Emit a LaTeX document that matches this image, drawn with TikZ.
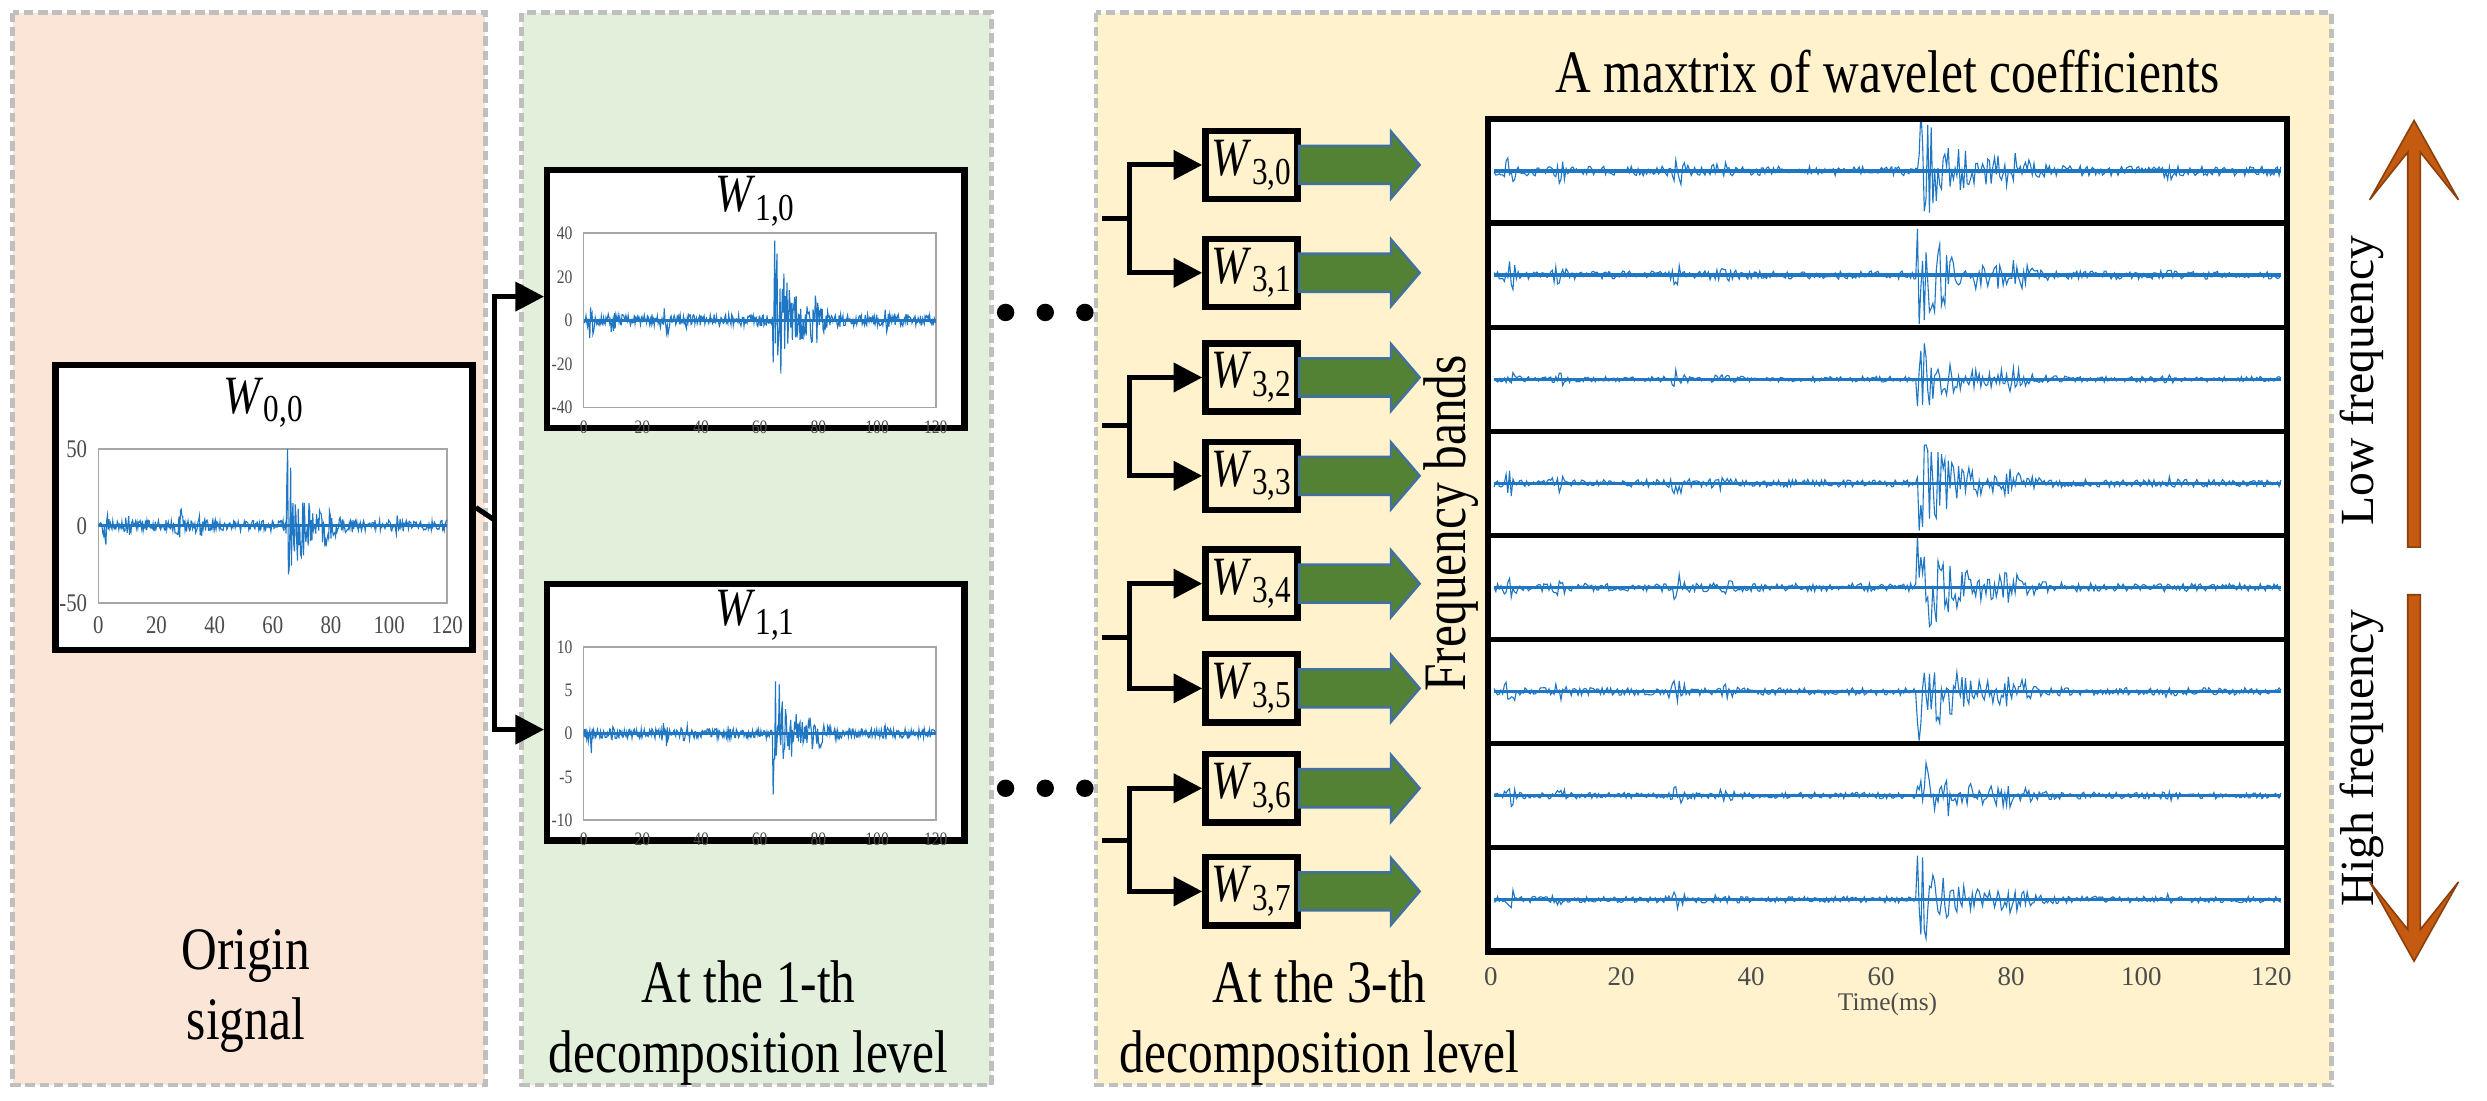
\documentclass[tikz,border=0pt]{standalone}
\usepackage{fontspec}
\setmainfont{Liberation Serif}
\newfontfamily\cond{Liberation Serif}[FakeStretch=0.82]
\usetikzlibrary{arrows.meta,calc}
\definecolor{peach}{HTML}{FBE5D6}
\definecolor{lgreen}{HTML}{E2EFDA}
\definecolor{lyell}{HTML}{FFF2CC}
\definecolor{sigblue}{HTML}{1F77C4}
\definecolor{garrow}{HTML}{548235}
\definecolor{gedge}{HTML}{41719C}
\definecolor{oarrow}{HTML}{C55A11}
\tikzset{
  panel/.style={draw=gray!50, dashed, line width=1.5pt, dash pattern=on 3pt off 1.5pt},
  wbox/.style={draw=black, line width=2pt, fill=white},
  conn/.style={line width=1.6pt, -{Triangle[length=9pt,width=9pt]}},
  lab/.style={font=\cond\fontsize{19}{22}\selectfont, align=center},
  tick/.style={font=\cond\fontsize{6}{7}\selectfont, text=black!70},
  frame/.style={draw=gray!70, line width=0.5pt, fill=white},
}
\newcommand{\envfp}[1]{(0.05 + 0.16*exp(-((#1-2.5)/0.8)^2) + 0.08*exp(-((#1-10)/1)^2) + 0.12*exp(-((#1-28)/1.2)^2) + 0.05*exp(-((#1-35)/1.5)^2) + ((#1>64.5)?0.75*exp(-(#1-64.5)/5):0) + 0.12*exp(-((#1-79)/2.5)^2) + 0.05*exp(-((#1-103)/0.8)^2))}
% \mysig{x0}{x1}{ymid}{amp}{seed}
\newcommand{\mysig}[5]{%
  \pgfmathsetseed{#5}%
  \draw[sigblue, line width=0.35pt] plot[samples=460, domain=0:120]
     ({#1+(#2-#1)/120*\x}, {#3 + \fpeval{round(#4*\envfp{\x},4)}*rand});
  \draw[sigblue, line width=1pt] (#1,#3) -- (#2,#3);
}
\begin{document}
\begin{tikzpicture}[x=0.5pt,y=-0.5pt]
\useasboundingbox (0,0) rectangle (1568,694);
\fill[white] (0,0) rectangle (1568,694);
% panels
\draw[panel, fill=peach] (8,8) rectangle (306,684);
\draw[panel, fill=lgreen] (329,8) rectangle (625,684);
\draw[panel, fill=lyell] (691,8) rectangle (1470,684);

\node[lab] (t1) at (155,625) {Origin\\signal};
\node[lab] (t2) at (472,645) {At the 1-th\\decomposition level};
\node[lab] (t3) at (832,645) {At the 3-th\\decomposition level};

% W00
\node[wbox, minimum width=263*0.5pt, minimum height=180*0.5pt] (w00) at (166.5,320) {};
\node[font=\cond\fontsize{17}{19}\selectfont] at (166,254) {\textit{W}\raisebox{-0.35ex}{\fontsize{12}{12}\selectfont 0,0}};
\draw[frame] (62,283) rectangle (282,380);
\begin{scope}\clip (62,283) rectangle (282,380); \mysig{62}{282}{331.5}{70}{11} \end{scope}
\foreach \v/\yy in {50/283,0/331.5,-50/380} \node[tick, anchor=east, font=\cond\fontsize{8}{9}\selectfont] at (62,\yy) {\v};
\foreach \i in {0,...,6} {\pgfmathsetmacro\xx{62+220*\i/6}\pgfmathtruncatemacro\lv{20*\i}
  \node[tick, anchor=north, font=\cond\fontsize{8}{9}\selectfont] at (\xx,382) {\lv};}

% W10
\node[wbox, minimum width=263*0.5pt, minimum height=163*0.5pt] (w10) at (476.5,188.5) {};
\node[font=\cond\fontsize{17}{19}\selectfont] at (476,127) {\textit{W}\raisebox{-0.35ex}{\fontsize{12}{12}\selectfont 1,0}};
\draw[frame] (368,147) rectangle (590,257);
\begin{scope}\clip (368,147) rectangle (590,257); \mysig{368}{590}{202}{75}{22} \end{scope}
\foreach \v/\yy in {40/147,20/174.5,0/202,-20/229.5,-40/257} \node[tick, anchor=east] at (368,\yy) {\v};
\foreach \i in {0,...,6} {\pgfmathsetmacro\xx{368+222*\i/6}\pgfmathtruncatemacro\lv{20*\i}
  \node[tick, anchor=north] at (\xx,258) {\lv};}

% W11
\node[wbox, minimum width=263*0.5pt, minimum height=162*0.5pt] (w11) at (476.5,449) {};
\node[font=\cond\fontsize{17}{19}\selectfont] at (476,388) {\textit{W}\raisebox{-0.35ex}{\fontsize{12}{12}\selectfont 1,1}};
\draw[frame] (368,408) rectangle (590,517);
\begin{scope}\clip (368,408) rectangle (590,517); \mysig{368}{590}{462.5}{60}{33} \end{scope}
\foreach \v/\yy in {10/408,5/435,0/462.5,-5/490,-10/517} \node[tick, anchor=east] at (368,\yy) {\v};
\foreach \i in {0,...,6} {\pgfmathsetmacro\xx{368+222*\i/6}\pgfmathtruncatemacro\lv{20*\i}
  \node[tick, anchor=north] at (\xx,518) {\lv};}

% connectors level 0->1
\coordinate (j0) at (312,328);
\draw[line width=1.6pt] (w00.east) -- (j0);
\draw[conn] (j0) |- (w10.west |- 0,187);
\draw[conn] (j0) |- (w11.west |- 0,460);

% dots
\foreach \yy in {197,497} \foreach \xx in {634,659,684} \fill (\xx,\yy) circle (5.5*0.5pt);

% level 3 boxes
\foreach \k/\yy in {0/104,1/172,2/238,3/300,4/368,5/434,6/497,7/562} {
  \node[wbox, fill=lyell, minimum width=58*0.5pt, minimum height=43*0.5pt, inner sep=0pt,
        font=\cond\fontsize{17}{19}\selectfont] (w3\k) at (789,\yy) {\textit{W}\raisebox{-0.35ex}{\fontsize{12}{12}\selectfont 3,\k}};
  \fill[garrow, draw=gedge, line width=0.8pt] (819,\yy-12) -- (877,\yy-12) -- (877,\yy-21) -- (895,\yy) -- (877,\yy+21) -- (877,\yy+12) -- (819,\yy+12) -- cycle;
}
\foreach \a/\b/\jy in {0/1/138,2/3/268,4/5/402,6/7/530} {
  \coordinate (s\a) at (695,\jy);
  \coordinate (j\a) at (712,\jy);
  \draw[line width=1.6pt] (s\a) -- (j\a);
  \draw[conn] (j\a) |- (w3\a.west);
  \draw[conn] (j\a) |- (w3\b.west);
}

% matrix
\node[font=\cond\fontsize{19}{22}\selectfont] (mt) at (1190,45) {A maxtrix of wavelet coefficients};
\foreach \r/\amp/\sd in {0/60/41,1/52/42,2/36/43,3/48/44,4/52/45,5/48/46,6/40/47,7/40/48} {
  \pgfmathsetmacro\ya{75+65.625*\r}
  \pgfmathsetmacro\yb{75+65.625*(\r+1)}
  \pgfmathsetmacro\ym{0.5*(\ya+\yb)}
  \fill[white] (940,\ya) rectangle (1442,\yb);
  \begin{scope}\clip (940,\ya) rectangle (1442,\yb); \mysig{942}{1438}{\ym}{\amp}{\sd} \end{scope}
}
\foreach \r in {1,...,7} {\pgfmathsetmacro\ya{75+65.625*\r} \draw[line width=1.6pt] (938,\ya) -- (1442,\ya);}
\node[draw=black, line width=2pt, minimum width=504*0.5pt, minimum height=525*0.5pt, inner sep=0pt] (mx) at (1190,337.5) {};
\foreach \i in {0,...,6} {\pgfmathsetmacro\xx{940+492*\i/6}\pgfmathtruncatemacro\lv{20*\i}
  \node[font=\fontsize{8.5}{9}\selectfont, text=black!70, anchor=north] at (\xx,603) {\lv};}
\node[font=\fontsize{8}{9}\selectfont, text=black!70] at (1190,633) {Time(ms)};
\node[rotate=90, font=\cond\fontsize{19}{22}\selectfont] (fb) at (915,330) {Frequency bands};

% frequency arrows
\node[rotate=90, font=\fontsize{15}{17}\selectfont] (lf) at (1489,240) {Low frequency};
\node[rotate=90, font=\fontsize{15}{17}\selectfont] (hf) at (1489,478) {High frequency};
\fill[oarrow, draw=oarrow!70!black, line width=0.5pt] (1518,345) -- (1518,96) -- (1494,126) -- (1522,76) -- (1550,126) -- (1526,96) -- (1526,345) -- cycle;
\fill[oarrow, draw=oarrow!70!black, line width=0.5pt] (1518,375) -- (1518,586) -- (1494,556) -- (1522,606) -- (1550,556) -- (1526,586) -- (1526,375) -- cycle;
\end{tikzpicture}
\end{document}
